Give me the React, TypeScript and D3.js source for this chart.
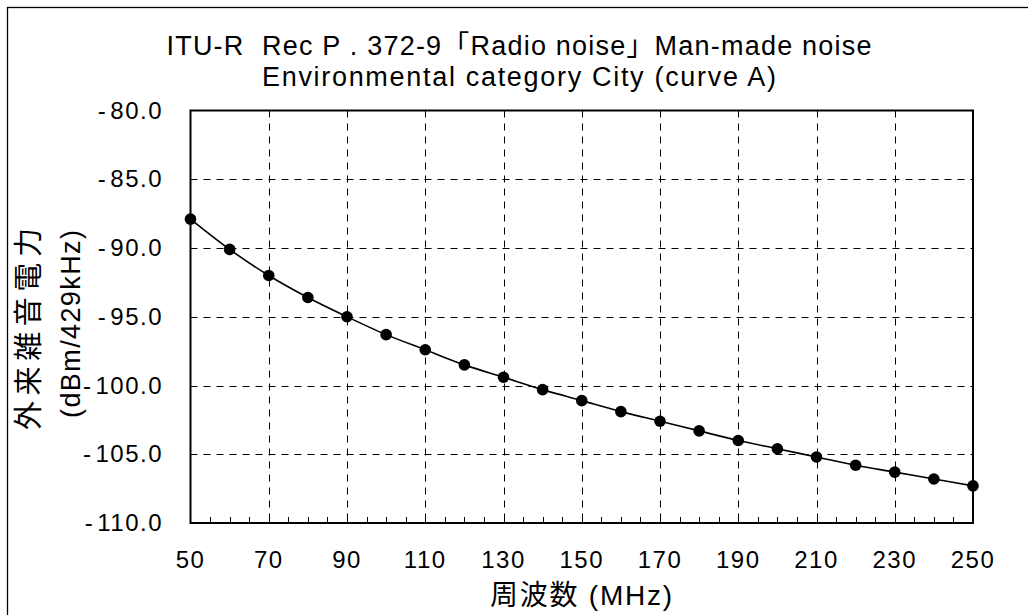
import React, { useEffect, useRef } from 'react';
import * as d3 from 'd3';

// frequency (MHz) and man-made noise power (dBm / 429 kHz), City curve A
const freqs = [50, 60, 70, 80, 90, 100, 110, 120, 130, 140, 150, 160, 170, 180, 190, 200, 210, 220, 230, 240, 250];
const noise = [-87.9, -90.1, -92.0, -93.6, -95.0, -96.3, -97.4, -98.5, -99.4, -100.3, -101.1, -101.9, -102.6, -103.3, -104.0, -104.6, -105.2, -105.8, -106.3, -106.8, -107.3];

const xTicks = [50, 70, 90, 110, 130, 150, 170, 190, 210, 230, 250];
const yTicks = [-80, -85, -90, -95, -100, -105, -110];
const titleLines = ['ITU-R  Rec P . 372-9「Radio noise」Man-made noise', 'Environmental category City (curve A)'];
const yLabelLines = ['外来雑音電力', '(dBm/429kHz)'];
const xLabel = '周波数 (MHz)';

const FONT = '"Liberation Sans Narrow", "Liberation Sans", Arial, "Noto Sans CJK JP", sans-serif';
const W = 1028;
const H = 615;

const App: React.FC = () => {
  const svgRef = useRef<SVGSVGElement>(null);

  useEffect(() => {
    if (!svgRef.current) return;
    const svg = d3.select(svgRef.current);
    svg.selectAll('*').remove();

    const plot = { left: 190.5, right: 973, top: 110.5, bottom: 523 };

    const x = d3.scaleLinear().domain([50, 250]).range([plot.left, plot.right]);
    const y = d3.scaleLinear().domain([-110, -80]).range([plot.bottom, plot.top]);

    // outer frame
    svg.append('rect')
      .attr('x', 7.5).attr('y', 7.5)
      .attr('width', W + 20).attr('height', H + 20)
      .attr('fill', '#fff').attr('stroke', '#000').attr('stroke-width', 1.3);

    // title
    const titleWidths = [705, 514];
    titleLines.forEach((t, i) => {
      svg.append('text')
        .attr('x', 519).attr('y', 55 + i * 31)
        .attr('text-anchor', 'middle')
        .attr('font-family', FONT).attr('font-size', 27)
        .attr('textLength', titleWidths[i]).attr('lengthAdjust', 'spacing')
        .style('white-space', 'pre')
        .text(t);
    });

    // grid
    const g = svg.append('g');
    g.selectAll('line.hgrid')
      .data(yTicks.filter(v => v !== -80 && v !== -110))
      .enter().append('line')
      .attr('x1', plot.left).attr('x2', plot.right)
      .attr('y1', d => Math.round(y(d)) + 0.5).attr('y2', d => Math.round(y(d)) + 0.5)
      .attr('stroke', '#000').attr('stroke-width', 1).attr('stroke-dasharray', '7,6');
    g.selectAll('line.vgrid')
      .data(xTicks.filter(v => v !== 50 && v !== 250))
      .enter().append('line')
      .attr('y1', plot.top).attr('y2', plot.bottom)
      .attr('x1', d => Math.round(x(d)) + 0.5).attr('x2', d => Math.round(x(d)) + 0.5)
      .attr('stroke', '#000').attr('stroke-width', 1).attr('stroke-dasharray', '7,6');

    // minor ticks on x axis, every 5 MHz, pointing inward
    const minor = d3.range(55, 250, 5);
    g.selectAll('line.minor')
      .data(minor)
      .enter().append('line')
      .attr('x1', d => Math.round(x(d)) + 0.5).attr('x2', d => Math.round(x(d)) + 0.5)
      .attr('y1', plot.bottom).attr('y2', plot.bottom - 6)
      .attr('stroke', '#000').attr('stroke-width', 1);

    // plot frame
    svg.append('rect')
      .attr('x', plot.left).attr('y', plot.top)
      .attr('width', plot.right - plot.left).attr('height', plot.bottom - plot.top)
      .attr('fill', 'none').attr('stroke', '#000').attr('stroke-width', 2);

    // y tick labels: "- 80.0" style with a gap after the minus sign
    const yl = svg.selectAll('text.ytick')
      .data(yTicks)
      .enter().append('text')
      .attr('x', 163).attr('y', d => y(d) + 8)
      .attr('text-anchor', 'end')
      .attr('font-family', FONT).attr('font-size', 24)
      .attr('letter-spacing', 1.5);
    yl.append('tspan').text('-');
    yl.append('tspan').attr('dx', 3).text(d => Math.abs(d).toFixed(1));

    // x tick labels
    svg.selectAll('text.xtick')
      .data(xTicks)
      .enter().append('text')
      .attr('x', d => x(d)).attr('y', 568)
      .attr('text-anchor', 'middle')
      .attr('font-family', FONT).attr('font-size', 24)
      .attr('letter-spacing', 1.5)
      .text(d => String(d));

    // axis titles
    svg.append('text')
      .attr('x', 581).attr('y', 605)
      .attr('text-anchor', 'middle')
      .attr('font-family', FONT).attr('font-size', 28)
      .attr('textLength', 182).attr('lengthAdjust', 'spacing')
      .text(xLabel);

    const yLabelPos = [{ cx: 39, cy: 329, len: 202, fs: 29 }, { cx: 80, cy: 324, len: 188, fs: 27 }];
    yLabelLines.forEach((t, i) => {
      const p = yLabelPos[i];
      svg.append('text')
        .attr('transform', `translate(${p.cx},${p.cy}) rotate(-90)`)
        .attr('text-anchor', 'middle')
        .attr('font-family', FONT).attr('font-size', p.fs)
        .attr('textLength', p.len).attr('lengthAdjust', 'spacing')
        .text(t);
    });

    // curve + markers
    const data = freqs.map((f, i) => ({ f, v: noise[i] }));
    const line = d3.line<{ f: number; v: number }>()
      .x(d => x(d.f)).y(d => y(d.v))
      .curve(d3.curveCatmullRom.alpha(0.5));

    svg.append('path')
      .datum(data)
      .attr('d', line)
      .attr('fill', 'none').attr('stroke', '#000').attr('stroke-width', 1.6);

    svg.selectAll('circle.pt')
      .data(data)
      .enter().append('circle')
      .attr('cx', d => x(d.f)).attr('cy', d => y(d.v))
      .attr('r', 5.8).attr('fill', '#000');
  }, []);

  return (
    <svg
      ref={svgRef}
      width={W}
      height={H}
      style={{ position: 'absolute', left: 0, top: 0, background: '#fff' }}
    />
  );
};

export default App;
